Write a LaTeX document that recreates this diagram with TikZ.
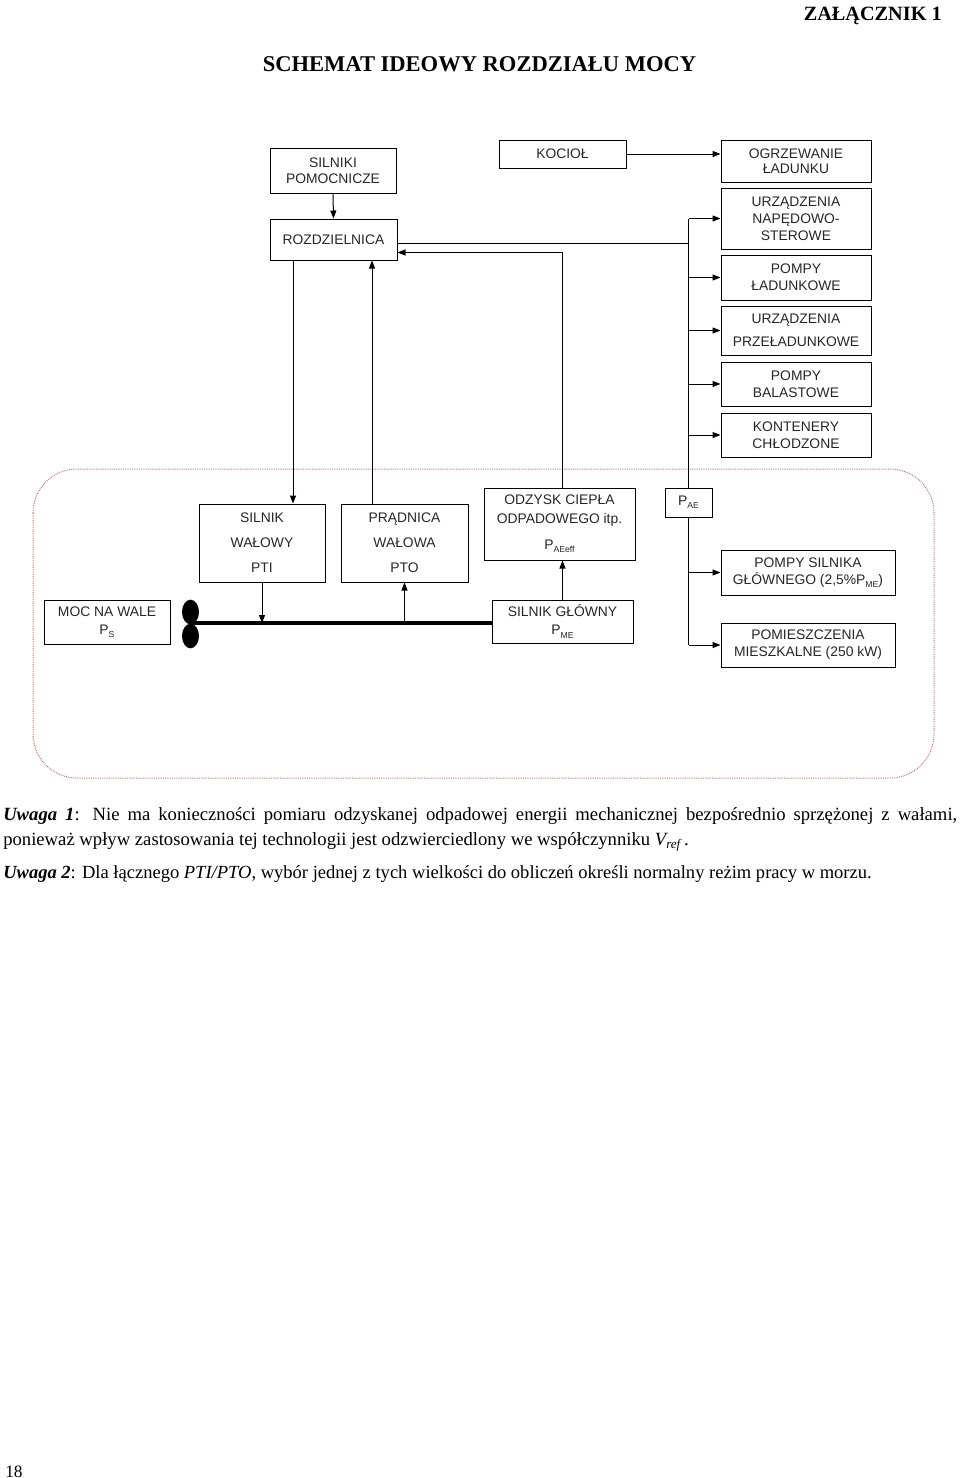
\documentclass[tikz,border=0pt]{standalone}
\usepackage{fontspec}
\setmainfont{Liberation Serif}
\newfontfamily\arialf{Liberation Sans}
\usetikzlibrary{arrows.meta,calc,shapes.geometric}
\definecolor{bndcol}{RGB}{200,105,105}
\newcommand\sbs[1]{\raisebox{-0.45ex}{\fontsize{6.5}{7}\selectfont #1}}
\begin{document}
\begin{tikzpicture}[x=0.75pt,y=-0.75pt,
 box/.style={draw, line width=0.75pt, inner sep=0pt, align=center, text=black!85,
   font=\arialf\fontsize{10.4}{12.75}\selectfont},
 bs/.style={font=\arialf\fontsize{10.4}{#1}\selectfont},
 sz/.style 2 args={minimum width=#1*0.75pt, minimum height=#2*0.75pt},
 arr/.style={line width=0.75pt, -{Triangle[length=6pt,width=4.5pt]}},
 ln/.style={line width=0.75pt},
 shaftst/.style={line width=2.4pt},
 prop/.style={fill=black, ellipse, inner sep=0pt, minimum width=12.75pt, minimum height=18.5pt},
 bnd/.style={draw=bndcol, line width=0.75pt, dash pattern=on 0.6pt off 0.75pt, rounded corners=33pt},
]
\useasboundingbox (0,0) rectangle (960,1478);

% headings
\node[anchor=base east, inner sep=0pt, font=\bfseries\fontsize{15.2}{18}\selectfont] (zal) at (942,20) {ZAŁĄCZNIK 1};
\node[anchor=base, inner sep=0pt, font=\bfseries\fontsize{16.9}{20}\selectfont] (title) at (479.5,71) {SCHEMAT IDEOWY ROZDZIAŁU MOCY};

% boundary
\draw[bnd] (33,469) rectangle (934,778);

% top boxes
\node[box, sz={126}{45}, bs=12pt] (sp) at (333,170.5) {SILNIKI\\POMOCNICZE};
\node[box, sz={127}{41}] (roz) at (333.5,239.5) {ROZDZIELNICA};
\node[box, sz={127}{28}] (koc) at (562.5,154) {KOCIOŁ};

% right column
\node[box, sz={150}{42}, bs=11.25pt] (ogr) at (796,161) {OGRZEWANIE\\ŁADUNKU};
\node[box, sz={150}{61}] (nap) at (796,218.5) {URZĄDZENIA\\NAPĘDOWO-\\STEROWE};
\node[box, sz={150}{45}] (pl) at (796,277.5) {POMPY\\ŁADUNKOWE};
\node[box, sz={150}{49}, bs=17.25pt] (prz) at (796,330.5) {URZĄDZENIA\\PRZEŁADUNKOWE};
\node[box, sz={150}{44}] (bal) at (796,384) {POMPY\\BALASTOWE};
\node[box, sz={150}{44}] (kon) at (796,435) {KONTENERY\\CHŁODZONE};

% inner boxes
\node[box, sz={126}{78}, bs=18.75pt] (sw) at (262,543) {SILNIK\\WAŁOWY\\PTI};
\node[box, sz={127}{78}, bs=18.75pt] (pr) at (404.5,543) {PRĄDNICA\\WAŁOWA\\PTO};
\node[box, sz={151}{72}, bs=14.25pt] (odz) at (559.5,524) {ODZYSK CIEPŁA\\ODPADOWEGO itp.\\[5pt]P\sbs{AEeff}};
\node[box, sz={47}{29}] (pae) at (688.5,502.5) {P\sbs{AE}};
\node[box, sz={126}{44}, bs=13.5pt] (moc) at (107,622) {MOC NA WALE\\P\sbs{S}};
\node[box, sz={141}{43}, bs=13.5pt] (sg) at (562.5,621.5) {SILNIK GŁÓWNY\\P\sbs{ME}};
\node[box, sz={174}{45}] (psm) at (808,572.5) {POMPY SILNIKA\\GŁÓWNEGO (2,5\%P\sbs{ME})};
\node[box, sz={174}{44}] (pom) at (808,645) {POMIESZCZENIA\\MIESZKALNE (250 kW)};

% shaft and propeller
\coordinate (shaft) at (190,623);
\draw[shaftst] (shaft) -- (shaft -| sg.west);
\node[prop] (pu) at (190.5,612) {};
\node[prop] (pd) at (190.5,636) {};

% connectors
\coordinate (xa) at (293,0);
\coordinate (xb) at (372,0);
\coordinate (re) at ($(roz.east)+(0,3.5)$);
\coordinate (ri) at ($(roz.east)+(0,13)$);

\draw[arr] (sp.south) -- (roz.north);
\draw[arr] (koc.east) -- (koc.east -| ogr.west);
\draw[ln] (re) -- (re -| pae.north);
\draw[ln] (pae.north) -- (pae.north |- nap.west);
\draw[arr] (pae.north |- nap.west) -- (nap.west);
\draw[arr] (pae.north |- pl.west) -- (pl.west);
\draw[arr] (pae.north |- prz.west) -- (prz.west);
\draw[arr] (pae.north |- bal.west) -- (bal.west);
\draw[arr] (pae.north |- kon.west) -- (kon.west);

\draw[arr] (odz.north -| sg.north) |- (ri);
\draw[arr] (sg.north) -- (sg.north |- odz.south);
\draw[arr] (roz.south -| xa) -- (sw.north -| xa);
\draw[arr] (pr.north -| xb) -- (roz.south -| xb);
\draw[arr] (sw.south) -- (sw.south |- shaft);
\draw[arr] (pr.south |- shaft) -- (pr.south);

\draw[ln] (pae.south) -- (pae.south |- pom.west);
\draw[arr] (pae.south |- psm.west) -- (psm.west);
\draw[arr] (pae.south |- pom.west) -- (pom.west);

% notes
\node[anchor=north west, inner sep=0pt, text width=715.5pt, align=justify,
  font=\fontsize{14}{18.75}\selectfont] (note1) at (3,807)
 {\textbf{\textit{Uwaga 1}}: Nie ma konieczności pomiaru odzyskanej odpadowej energii mechanicznej bezpośrednio sprzężonej z~wałami,\linebreak
  ponieważ wpływ zastosowania tej technologii jest odzwierciedlony we współczynniku \textit{V\textsubscript{ref}}\,.};
\node[anchor=north west, inner sep=0pt, font=\fontsize{13.9}{18.75}\selectfont] (note2) at (3,865)
 {\textbf{\textit{Uwaga 2}}: Dla łącznego \textit{PTI/PTO}, wybór jednej z tych wielkości do obliczeń określi normalny reżim pracy w morzu.};

\node[anchor=base west, inner sep=0pt, font=\fontsize{13}{15}\selectfont] (pg) at (5,1477) {18};
\end{tikzpicture}
\end{document}
